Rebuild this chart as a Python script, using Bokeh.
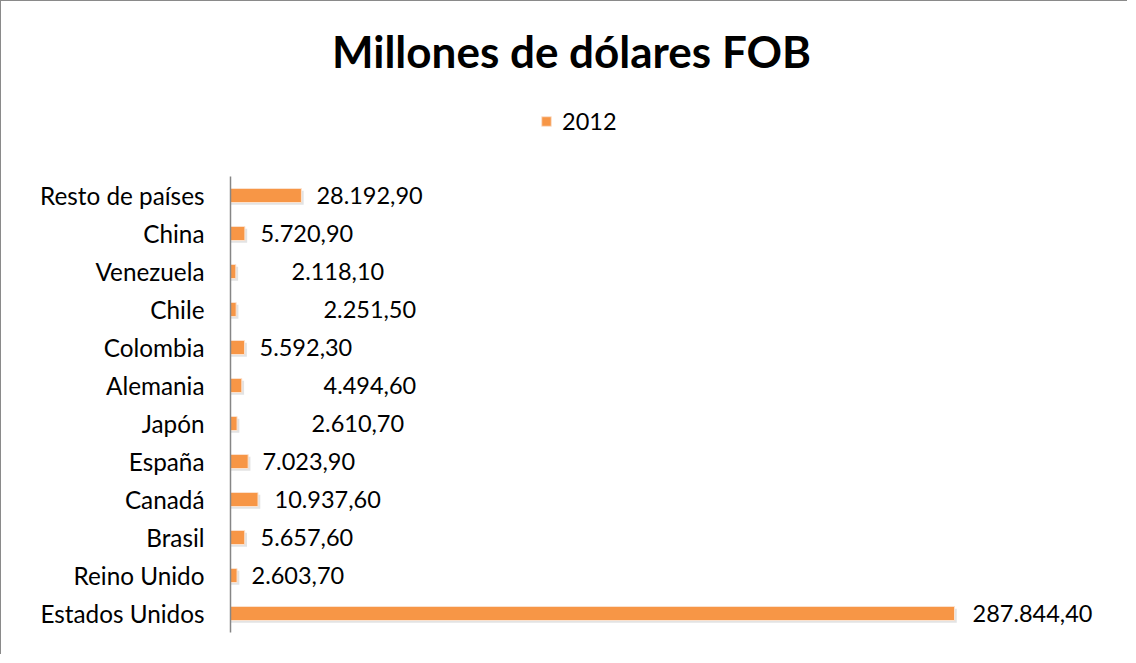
from bokeh.plotting import figure
from bokeh.models import (ColumnDataSource, Range1d, Label, Legend, LegendItem, FixedTicker)
from bokeh.transform import dodge
from bokeh.core.properties import value
from bokeh.embed import file_html
from bokeh.resources import INLINE

# ---- data (bottom to top) ----
countries = ["Estados Unidos", "Reino Unido", "Brasil", "Canadá", "España", "Japón",
             "Alemania", "Colombia", "Chile", "Venezuela", "China", "Resto de países"]
values_2012 = [287844.40, 2603.70, 5657.60, 10937.60, 7023.90, 2610.70,
               4494.60, 5592.30, 2251.50, 2118.10, 5720.90, 28192.90]
series_name = "2012"
title_text = "Millones de dólares FOB"

# label offsets (px, styling: manual label placement as in the original)
label_offsets = [18, 14.5, 15.8, 16.5, 14.3, 74.4, 81.7, 15, 87.3, 55.7, 15.6, 15]


def es_fmt(v):
    s = f"{v:,.2f}"
    return s.replace(",", "X").replace(".", ",").replace("X", ".")


labels = [es_fmt(v) for v in values_2012]
pos = list(range(len(countries)))

FONT = "Lato"
ORANGE = "#F79646"

src = ColumnDataSource(dict(pos=pos, cat=countries, val=values_2012, lab=labels, off=label_offsets))

W, H = 1127, 654
ML, MR, MT, MB = 229, 17, 0, 23
frame_w = W - ML - MR
frame_h = H - MT - MB
row_px = 38.0

p = figure(width=W, height=H, output_backend="svg", toolbar_location=None,
           y_range=Range1d(-0.5, -0.5 + frame_h / row_px),
           x_range=Range1d(0, max(values_2012) * frame_w / 724.0),
           min_border_left=ML, min_border_right=MR, min_border_top=MT, min_border_bottom=MB,
           tools="")
p.styles = {"border-top": "1px solid #8a8a8a", "border-left": "1px solid #8a8a8a"}
p.outline_line_color = None
p.background_fill_color = "white"
p.border_fill_color = "white"
p.xgrid.grid_line_color = None
p.ygrid.grid_line_color = None
p.xaxis.visible = False

yax = p.yaxis[0]
yax.ticker = FixedTicker(ticks=pos, minor_ticks=[])
yax.major_label_overrides = {i: c for i, c in zip(pos, countries)}
yax.bounds = (-0.5, len(countries) - 0.5)
yax.axis_line_color = "#868686"
yax.axis_line_width = 1.5
yax.major_tick_line_color = None
yax.minor_tick_line_color = None
yax.major_label_standoff = 20
yax.major_label_text_font = FONT
yax.major_label_text_font_size = "24.3px"
yax.major_label_text_color = "#000000"

# soft shadow
p.hbar(y=dodge("pos", -0.06), left=0, right=dodge("val", 900),
       height=0.37, source=src, fill_color="#8f8f8f", fill_alpha=0.25, line_color=None)
bars = p.hbar(y="pos", left=0, right="val", height=0.37, source=src,
              fill_color=ORANGE, line_color="#fbe2cf", line_width=1)

p.text(x="val", y="pos", text="lab", x_offset="off", source=src,
       text_align="left", text_baseline="middle",
       text_font=value(FONT), text_font_size="23.5px", text_color="#000000")

legend = Legend(items=[LegendItem(label=series_name, renderers=[bars])],
                location=(310, 497), orientation="horizontal",
                glyph_width=12, glyph_height=12, label_standoff=10,
                padding=0, margin=0, spacing=0, label_height=24,
                border_line_color=None, background_fill_alpha=0,
                label_text_font=FONT, label_text_font_size="23.5px",
                label_text_color="#000000")
p.add_layout(legend, "center")

p.add_layout(Label(x=341, y=582, x_units="screen", y_units="screen", text=title_text,
                   text_align="center", text_baseline="alphabetic",
                   text_font=FONT, text_font_style="bold", text_font_size="44px",
                   text_color="#000000"))

open("out.html", "w").write(file_html(p, INLINE))
